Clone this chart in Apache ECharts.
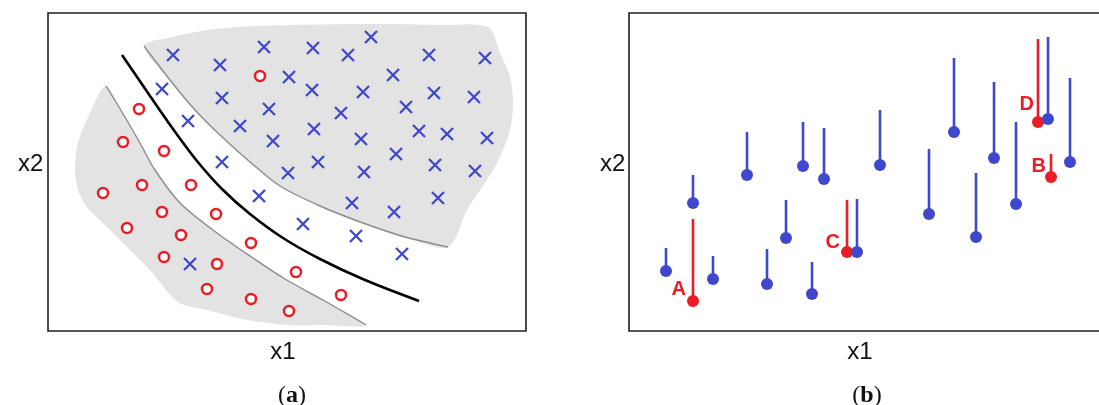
<!DOCTYPE html>
<html>
<head>
<meta charset="utf-8">
<script src="https://cdn.jsdelivr.net/npm/echarts@6.0.0/dist/echarts.min.js"></script>
<style>
  html, body { margin: 0; padding: 0; background: #fff; }
  #chart { width: 1099px; height: 405px; }
</style>
</head>
<body>
<div id="chart"></div>
<script>
// ---- Panel (a): two classes of training points and the margin between them ----
const crossPoints = [
  [125,276],[172,266],[216,284],[265,283],[300,276],[323,294],[381,276],[437,273],
  [241,254],[345,256],[114,242],[174,233],[221,222],[264,241],[315,239],[386,238],
  [426,234],[293,218],[358,224],[140,210],[192,205],[266,202],[313,192],[371,200],
  [399,197],[439,193],[225,190],[174,169],[240,158],[270,169],[316,159],[348,177],
  [387,166],[427,160],[211,135],[304,128],[346,119],[390,133],[255,107],[308,95],
  [354,77],[142,67]
];
const circlePoints = [
  [212,255],[91,222],[75,189],[116,180],[55,138],[94,146],[143,146],[114,119],
  [168,117],[79,103],[133,96],[203,88],[116,74],[169,67],[159,42],[203,32],
  [241,20],[248,59],[293,36]
];
// margin edge of the upper class region (drawn as a grey line)
const upperMargin = [
  [96,285],[122,251],[147,221],[172,196],[202,169],[232,145],[272,125],[315,108],[357,94],[400,84]
];
// remaining outline of the upper class region
const upperOutline = [
  [419,121],[442,156],[452,174],[462,201],[465,228],[462,254],[452,278],[440,304],
  [392,306],[332,307],[242,306],[192,304],[159,301],[125,294]
];
// margin edge of the lower class region
const lowerMargin = [
  [58,245],[74,219],[92,188],[107,161],[132,128],[169,98],[205,73],[237,52],[275,31],[318,6]
];
const lowerOutline = [
  [272,6],[242,6],[199,11],[159,21],[130,29],[102,61],[79,84],[59,104],[39,124],
  [30,141],[27,161],[30,188],[42,218]
];
// decision boundary
const boundary = [
  [74,276],[100,238],[125,202],[149,170],[174,142],[202,117],[235,93],[272,72],[317,51],[371,30]
];

// ---- Panel (b): each point [x1, x2, top of its segment] ----
const bluePoints = [
  [37,60,83],[64,128,156],[84,52,75],[118,156,199],[138,47,82],[157,93,131],
  [174,165,209],[183,37,69],[195,152,203],[228,79,132],[251,166,221],[300,117,182],
  [325,199,273],[347,94,158],[365,173,249],[387,127,209],[419,212,294],[441,169,253]
];
const redPoints = [
  [64,30,112],[218,79,131],[409,209,292],[422,154,177]
];
const redNames = ['A','C','D','B'];

const BLUE = '#3f48cc';
const RED = '#ec1c24';
const AXIS_MAX_X = 478;
const AXIS_MAX_Y = 318;

const sans = 'Liberation Sans, Arial, sans-serif';
const serif = 'Liberation Serif, serif';
const labelFont = { fontFamily: sans, fontSize: 24, fontWeight: 'normal', color: '#111' };

function hiddenAxis(extra) {
  return Object.assign({
    type: 'value', min: 0,
    axisLine: { show: false }, axisTick: { show: false },
    axisLabel: { show: false }, splitLine: { show: false }
  }, extra);
}

function regionSeries(edge, outline) {
  return {
    type: 'custom', xAxisIndex: 0, yAxisIndex: 0, silent: true,
    data: [[0, 0]],
    renderItem: function (params, api) {
      const e = edge.map(function (p) { return api.coord(p); });
      const o = outline.map(function (p) { return api.coord(p); });
      return {
        type: 'group',
        children: [
          { type: 'polygon', shape: { points: e.concat(o), smooth: 0.3 },
            style: { fill: '#e3e3e3', stroke: null } },
          { type: 'polyline', shape: { points: e, smooth: 0.3 },
            style: { stroke: '#8c8c8c', lineWidth: 1.4, fill: null } }
        ]
      };
    }
  };
}

function stemSeries(points, color) {
  return {
    type: 'custom', xAxisIndex: 1, yAxisIndex: 1, silent: true,
    data: points,
    encode: { x: 0, y: [1, 2] },
    renderItem: function (params, api) {
      const p0 = api.coord([api.value(0), api.value(1)]);
      const p1 = api.coord([api.value(0), api.value(2)]);
      return { type: 'line',
        shape: { x1: p0[0], y1: p0[1], x2: p1[0], y2: p1[1] },
        style: { stroke: color, lineWidth: 2.6 } };
    }
  };
}

function panelTitle(letter, left) {
  const rich = {};
  rich[letter] = { fontFamily: serif, fontSize: 24, fontWeight: 'bold', color: '#111' };
  return { text: '({' + letter + '|' + letter + '})', left: left, top: 379, textAlign: 'center',
    textStyle: { fontFamily: serif, fontSize: 24, fontWeight: 'normal', color: '#111', rich: rich } };
}

const redLabelOffset = { A: [-1, -12], C: [-1, -10], D: [2, -18], B: [1, -11] };

const gridBox = { height: 318, top: 13, width: 478, show: true, outerBoundsMode: 'none',
  borderColor: '#1e1e1e', borderWidth: 1.6, backgroundColor: '#fff' };

const chart = echarts.init(document.getElementById('chart'), null, { renderer: 'canvas' });
chart.setOption({
  animation: false,
  backgroundColor: '#fff',
  grid: [
    Object.assign({ left: 48 }, gridBox),
    Object.assign({ left: 629 }, gridBox)
  ],
  xAxis: [
    hiddenAxis({ gridIndex: 0, max: AXIS_MAX_X, name: 'x1', nameLocation: 'middle', nameGap: 9,
      nameTextStyle: Object.assign({ padding: [0, 8, 0, 0] }, labelFont) }),
    hiddenAxis({ gridIndex: 1, max: AXIS_MAX_X, name: 'x1', nameLocation: 'middle', nameGap: 9,
      nameTextStyle: Object.assign({ padding: [0, 16, 0, 0] }, labelFont) })
  ],
  yAxis: [
    hiddenAxis({ gridIndex: 0, max: AXIS_MAX_Y }),
    hiddenAxis({ gridIndex: 1, max: AXIS_MAX_Y })
  ],
  title: [
    { text: 'x2', left: 13, top: 147, textStyle: labelFont },
    { text: 'x2', left: 595, top: 147, textStyle: labelFont },
    panelTitle('a', 287),
    panelTitle('b', 862)
  ],
  series: [
    regionSeries(upperMargin, upperOutline),
    regionSeries(lowerMargin, lowerOutline),
    { type: 'line', xAxisIndex: 0, yAxisIndex: 0, data: boundary, smooth: 0.3,
      showSymbol: false, silent: true, lineStyle: { color: '#000', width: 2.6 } },
    { type: 'scatter', xAxisIndex: 0, yAxisIndex: 0, data: crossPoints, silent: true,
      symbol: 'path://M0,0L10,10M10,0L0,10', symbolSize: 12,
      itemStyle: { color: BLUE, borderColor: BLUE, borderWidth: 2.3, opacity: 1 } },
    { type: 'scatter', xAxisIndex: 0, yAxisIndex: 0, data: circlePoints, silent: true,
      symbol: 'circle', symbolSize: 10,
      itemStyle: { color: '#fff', borderColor: RED, borderWidth: 2.5, opacity: 1 } },

    stemSeries(redPoints, RED),
    { type: 'scatter', xAxisIndex: 1, yAxisIndex: 1, silent: true, symbolSize: 12,
      itemStyle: { color: RED, opacity: 1 },
      data: redPoints.map(function (p, i) {
        const n = redNames[i];
        return { name: n, value: [p[0], p[1]],
          label: { show: true, formatter: n, position: 'left', distance: 0, offset: redLabelOffset[n],
            fontFamily: sans, fontWeight: 'bold', fontSize: 20, color: RED } };
      }) },
    stemSeries(bluePoints, BLUE),
    { type: 'scatter', xAxisIndex: 1, yAxisIndex: 1, silent: true, symbolSize: 12,
      itemStyle: { color: BLUE, opacity: 1 },
      data: bluePoints.map(function (p) { return [p[0], p[1]]; }) }
  ]
});
</script>
</body>
</html>
